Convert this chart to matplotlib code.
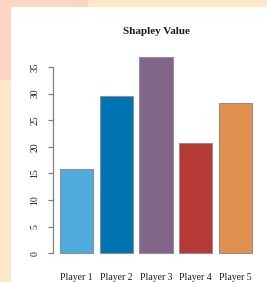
import matplotlib.pyplot as plt
from matplotlib.patches import Rectangle
import numpy as np

players = ['Player 1', 'Player 2', 'Player 3', 'Player 4', 'Player 5']
shapley = [15.8, 29.5, 36.8, 20.7, 28.2]
colors = ['#51abdf', '#0073b2', '#82668a', '#b53a36', '#e0914f']
yticks = [0, 5, 10, 15, 20, 25, 30, 35]

plt.rcParams['font.family'] = ['Liberation Serif', 'DejaVu Serif']

W, H = 267, 282
fig = plt.figure(figsize=(W / 100, H / 100), dpi=100)
fig.patch.set_facecolor('#fee8c8')

# background blocks (salmon corner + white panel)
fig.patches.append(Rectangle((0, 1 - 80 / H), 11 / W, 80 / H, transform=fig.transFigure,
                             facecolor='#fdd5c3', edgecolor='none', zorder=-5))
fig.patches.append(Rectangle((0, 1 - 7 / H), 88 / W, 7 / H, transform=fig.transFigure,
                             facecolor='#fdd5c3', edgecolor='none', zorder=-5))
fig.patches.append(Rectangle((11 / W, 0), 1, 1 - 7 / H, transform=fig.transFigure,
                             facecolor='white', edgecolor='none', zorder=-5))

ax = fig.add_axes([53 / W, (H - 260) / H, (262 - 53) / W, (260 - 50) / H])
ax.set_zorder(5)
ax.set_facecolor('none')

x = np.arange(len(players)) * 1.2
ax.bar(x, shapley, width=1.0, color=colors, edgecolor='#909090', linewidth=0.8)

ax.set_xlim(-0.71, x[-1] + 0.8)
ax.set_ylim(-1.3, 38.2)

for s in ['top', 'right', 'bottom']:
    ax.spines[s].set_visible(False)
ax.spines['left'].set_bounds(0, 35)
ax.spines['left'].set_color('#808080')
ax.spines['left'].set_linewidth(0.9)

ax.set_yticks(yticks)
ax.set_yticklabels([str(v) for v in yticks], rotation=90, va='center', fontsize=7, color='#1a1a1a')
ax.tick_params(axis='y', length=3.6, width=0.9, color='#808080', pad=6)

ax.set_xticks(x)
ax.set_xticklabels(players, fontsize=7, color='#1a1a1a')
ax.tick_params(axis='x', length=0, pad=9)

fig.text(156 / W, 1 - 32 / H, 'Shapley Value', ha='center', va='center',
         fontsize=8, fontweight='bold', color='#1a1a1a', zorder=6)

fig.savefig('out.png', dpi=100)
